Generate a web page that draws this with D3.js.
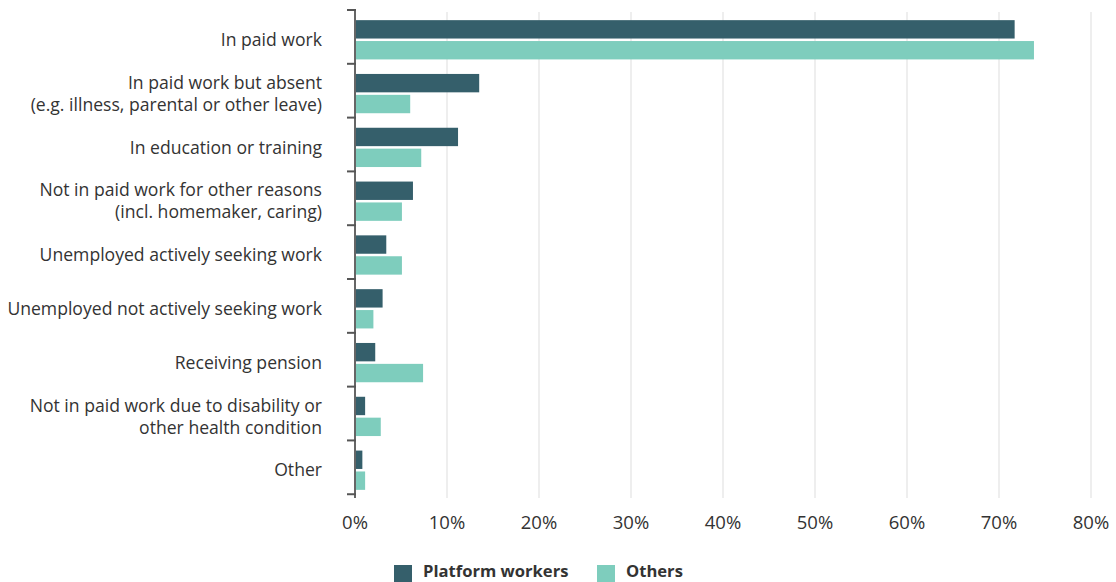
<!DOCTYPE html>
<html><head><meta charset="utf-8">
<script src="https://cdn.jsdelivr.net/npm/d3@7"></script>
<style>body{margin:0;background:#fff;} text{font-family:"Open Sans",sans-serif;fill:#333;}</style>
</head><body><svg id="c" width="1116" height="582"></svg>
<script>
const categories = [
  ["In paid work"],
  ["In paid work but absent","(e.g. illness, parental or other leave)"],
  ["In education or training"],
  ["Not in paid work for other reasons","(incl. homemaker, caring)"],
  ["Unemployed actively seeking work"],
  ["Unemployed not actively seeking work"],
  ["Receiving pension"],
  ["Not in paid work due to disability or","other health condition"],
  ["Other"]
];
const seriesNames = ["Platform workers","Others"];
const platformWorkers = [71.7, 13.5, 11.2, 6.3, 3.4, 3.0, 2.2, 1.1, 0.8];
const others = [73.8, 6.0, 7.2, 5.1, 5.1, 2.0, 7.4, 2.8, 1.1];
const xTicks = [0,10,20,30,40,50,60,70,80];
const colors = ["#355f6b","#7ecdbd"];

const svg = d3.select("#c");
const x = d3.scaleLinear().domain([0,80]).range([355,1091]);
const y = d3.scaleBand().domain(d3.range(categories.length)).range([10,498]).paddingInner(0.27).paddingOuter(0.17);
const yb = d3.scaleBand().domain(seriesNames).range([0,y.bandwidth()]).paddingInner(0.12);
const step = y.step();

// gridlines
svg.append("g").selectAll("line").data(xTicks.slice(1)).join("line")
  .attr("x1",d=>x(d)).attr("x2",d=>x(d)).attr("y1",12).attr("y2",498)
  .attr("stroke","#e9e9e9").attr("stroke-width",1.5);

// bars
const data = categories.map((c,i)=>({i, vals:[platformWorkers[i], others[i]]}));
const g = svg.append("g");
data.forEach(d=>{
  d.vals.forEach((v,j)=>{
    g.append("rect").attr("x",x(0)).attr("y",y(d.i)+yb(seriesNames[j])+1)
      .attr("width",x(v)-x(0)).attr("height",yb.bandwidth()).attr("fill",colors[j]);
  });
});

// y axis line and ticks
svg.append("line").attr("x1",355).attr("x2",355).attr("y1",10).attr("y2",498).attr("stroke","#666").attr("stroke-width",2);
svg.append("g").selectAll("line").data(d3.range(categories.length+1)).join("line")
  .attr("x1",347).attr("x2",356).attr("y1",i=>10+i*step).attr("y2",i=>10+i*step)
  .attr("stroke","#555").attr("stroke-width",2);

// category labels
const lab = svg.append("g");
categories.forEach((c,i)=>{
  const cy = y(i)+y.bandwidth()/2+1;
  const lh = 22;
  const t = lab.append("text").attr("text-anchor","end").attr("font-size",17.6);
  c.forEach((line,k)=>{
    t.append("tspan").attr("x",322).attr("y",cy + (k-(c.length-1)/2)*lh).attr("dy","0.35em").text(line);
  });
});

// x tick labels
svg.append("g").selectAll("text").data(xTicks).join("text")
  .attr("x",d=>x(d)).attr("y",523).attr("dy","0.35em").attr("text-anchor","middle").attr("font-size",18.5)
  .text(d=>d+"%");

// legend
const leg = svg.append("g");
const lx = [394, 597];
seriesNames.forEach((s,j)=>{
  leg.append("rect").attr("x",lx[j]).attr("y",565).attr("width",18).attr("height",18).attr("fill",colors[j]);
  leg.append("text").attr("x",lx[j]+29).attr("y",571).attr("dy","0.35em").attr("font-size",16.6).attr("font-weight","bold").text(s);
});
</script></body></html>
